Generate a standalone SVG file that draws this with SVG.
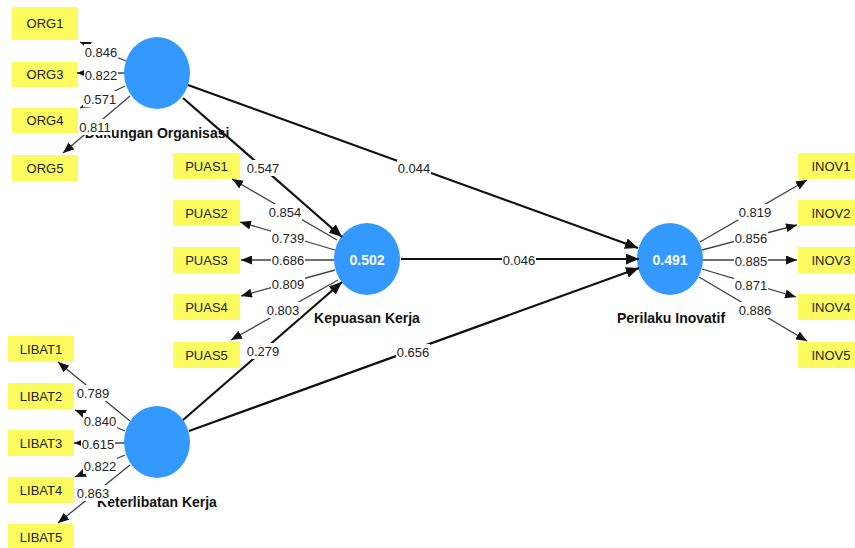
<svg xmlns="http://www.w3.org/2000/svg" width="855" height="548" viewBox="0 0 855 548">
<style>
.box{fill:#fcfc5f}
.bt{font-family:"Liberation Sans",Arial,sans-serif;font-size:13px;fill:#222;text-anchor:middle;dominant-baseline:central}
.lv{fill:#3399ff}
.vt{font-family:"Liberation Sans",Arial,sans-serif;font-size:14px;font-weight:bold;fill:#fff;text-anchor:middle;dominant-baseline:central}
.tt{font-family:"Liberation Sans",Arial,sans-serif;font-size:14px;font-weight:bold;fill:#111;text-anchor:middle}
.ld{stroke:#404040;stroke-width:1.3;fill:none;marker-end:url(#ah)}
.st{stroke:#111;stroke-width:2.2;fill:none;marker-end:url(#ahb)}
.lb{fill:#fff}
.lt{font-family:"Liberation Sans",Arial,sans-serif;font-size:13px;fill:#222;text-anchor:middle;dominant-baseline:central}
</style>
<defs>
<marker id="ah" markerUnits="userSpaceOnUse" markerWidth="11" markerHeight="9" refX="11" refY="4.5" orient="auto"><path d="M0,0 L11,4.5 L0,9 z" fill="#111"/></marker>
<marker id="ahb" markerUnits="userSpaceOnUse" markerWidth="13" markerHeight="11" refX="13" refY="5.5" orient="auto"><path d="M0,0 L13,5.5 L0,11 z" fill="#111"/></marker>
</defs>
<rect width="855" height="548" fill="#fff"/>

<g id="ORG1"><rect class="box" x="12" y="7" width="66" height="33"/><text class="bt" x="45" y="23">ORG1</text></g>
<g id="ORG3"><rect class="box" x="12" y="62" width="66" height="25"/><text class="bt" x="45" y="74.5">ORG3</text></g>
<g id="ORG4"><rect class="box" x="12" y="108" width="66" height="25"/><text class="bt" x="45" y="120.5">ORG4</text></g>
<g id="ORG5"><rect class="box" x="12" y="155" width="66" height="26"/><text class="bt" x="45" y="168">ORG5</text></g>

<g id="PUAS1"><rect class="box" x="173" y="153" width="67" height="26"/><text class="bt" x="206.5" y="166">PUAS1</text></g>
<g id="PUAS2"><rect class="box" x="173" y="200" width="67" height="26"/><text class="bt" x="206.5" y="213">PUAS2</text></g>
<g id="PUAS3"><rect class="box" x="173" y="247" width="67" height="26"/><text class="bt" x="206.5" y="260">PUAS3</text></g>
<g id="PUAS4"><rect class="box" x="173" y="294" width="67" height="26"/><text class="bt" x="206.5" y="307">PUAS4</text></g>
<g id="PUAS5"><rect class="box" x="173" y="342" width="67" height="26"/><text class="bt" x="206.5" y="355">PUAS5</text></g>

<g id="INOV1"><rect class="box" x="798" y="153" width="66" height="26"/><text class="bt" x="831" y="166">INOV1</text></g>
<g id="INOV2"><rect class="box" x="798" y="200" width="66" height="26"/><text class="bt" x="831" y="213">INOV2</text></g>
<g id="INOV3"><rect class="box" x="798" y="247" width="66" height="26"/><text class="bt" x="831" y="260">INOV3</text></g>
<g id="INOV4"><rect class="box" x="798" y="294" width="66" height="26"/><text class="bt" x="831" y="307">INOV4</text></g>
<g id="INOV5"><rect class="box" x="798" y="342" width="66" height="26"/><text class="bt" x="831" y="355">INOV5</text></g>

<g id="LIBAT1"><rect class="box" x="8" y="336" width="66" height="26"/><text class="bt" x="41" y="349">LIBAT1</text></g>
<g id="LIBAT2"><rect class="box" x="8" y="383" width="66" height="26"/><text class="bt" x="41" y="396">LIBAT2</text></g>
<g id="LIBAT3"><rect class="box" x="8" y="430" width="66" height="26"/><text class="bt" x="41" y="443">LIBAT3</text></g>
<g id="LIBAT4"><rect class="box" x="8" y="477" width="66" height="26"/><text class="bt" x="41" y="490">LIBAT4</text></g>
<g id="LIBAT5"><rect class="box" x="8" y="524" width="66" height="26"/><text class="bt" x="41" y="537">LIBAT5</text></g>

<g id="DukunganOrganisasi"><ellipse class="lv" cx="157" cy="73" rx="33" ry="36"/><text class="tt" x="157" y="138">Dukungan Organisasi</text></g>
<g id="KepuasanKerja"><ellipse class="lv" cx="367" cy="259" rx="33" ry="36"/><text class="vt" x="367" y="260">0.502</text><text class="tt" x="367" y="323">Kepuasan Kerja</text></g>
<g id="PerilakuInovatif"><ellipse class="lv" cx="670" cy="259" rx="33" ry="36"/><text class="vt" x="670" y="260">0.491</text><text class="tt" x="671" y="323">Perilaku Inovatif</text></g>
<g id="KeterlibatanKerja"><ellipse class="lv" cx="157" cy="442" rx="33" ry="36"/><text class="tt" x="157" y="507">Keterlibatan Kerja</text></g>

<g id="connectors">
<line class="ld" x1="126" y1="61" x2="80" y2="42"/>
<line class="ld" x1="124" y1="73" x2="77" y2="73"/>
<line class="ld" x1="125" y1="86" x2="80" y2="108"/>
<line class="ld" x1="130" y1="96" x2="63" y2="153"/>
<line class="ld" x1="337" y1="240" x2="232" y2="179"/>
<line class="ld" x1="335" y1="250" x2="240" y2="222"/>
<line class="ld" x1="334" y1="260" x2="241" y2="260"/>
<line class="ld" x1="335" y1="270" x2="241" y2="296"/>
<line class="ld" x1="338" y1="280" x2="231" y2="340"/>
<line class="ld" x1="700" y1="242" x2="807" y2="180"/>
<line class="ld" x1="702" y1="250" x2="797" y2="225"/>
<line class="ld" x1="703" y1="260" x2="797" y2="260"/>
<line class="ld" x1="702" y1="269" x2="796" y2="297"/>
<line class="ld" x1="699" y1="277" x2="807" y2="341"/>
<line class="ld" x1="130" y1="421" x2="58" y2="362"/>
<line class="ld" x1="125" y1="431" x2="75" y2="410"/>
<line class="ld" x1="124" y1="443" x2="74" y2="443"/>
<line class="ld" x1="125" y1="455" x2="75" y2="477"/>
<line class="ld" x1="130" y1="465" x2="58" y2="523"/>
<line class="st" x1="183" y1="98" x2="342" y2="237"/>
<line class="st" x1="188" y1="85" x2="638" y2="248"/>
<line class="st" x1="401" y1="259" x2="639" y2="259"/>
<line class="st" x1="183" y1="420" x2="342" y2="282"/>
<line class="st" x1="189" y1="431" x2="639" y2="268"/>

<g id="labels">
<rect class="lb" x="84" y="44" width="34" height="16"/><text class="lt" x="101" y="52">0.846</text>
<rect class="lb" x="84" y="67" width="34" height="16"/><text class="lt" x="101" y="75">0.822</text>
<rect class="lb" x="83" y="91" width="34" height="16"/><text class="lt" x="100" y="99">0.571</text>
<rect class="lb" x="78" y="119" width="34" height="16"/><text class="lt" x="95" y="127">0.811</text>
<rect class="lb" x="246" y="160" width="34" height="16"/><text class="lt" x="263" y="168">0.547</text>
<rect class="lb" x="397" y="160" width="34" height="16"/><text class="lt" x="414" y="168">0.044</text>
<rect class="lb" x="268" y="204" width="34" height="16"/><text class="lt" x="285" y="212">0.854</text>
<rect class="lb" x="271" y="230" width="34" height="16"/><text class="lt" x="288" y="238">0.739</text>
<rect class="lb" x="271" y="252" width="34" height="16"/><text class="lt" x="288" y="260">0.686</text>
<rect class="lb" x="271" y="276" width="34" height="16"/><text class="lt" x="288" y="284">0.809</text>
<rect class="lb" x="266" y="302" width="34" height="16"/><text class="lt" x="283" y="310">0.803</text>
<rect class="lb" x="246" y="343" width="34" height="16"/><text class="lt" x="263" y="351">0.279</text>
<rect class="lb" x="396" y="344" width="34" height="16"/><text class="lt" x="413" y="352">0.656</text>
<rect class="lb" x="502" y="252" width="34" height="16"/><text class="lt" x="519" y="260">0.046</text>
<rect class="lb" x="738" y="204" width="34" height="16"/><text class="lt" x="755" y="212">0.819</text>
<rect class="lb" x="734" y="230" width="34" height="16"/><text class="lt" x="751" y="238">0.856</text>
<rect class="lb" x="734" y="253" width="34" height="16"/><text class="lt" x="751" y="261">0.885</text>
<rect class="lb" x="734" y="277" width="34" height="16"/><text class="lt" x="751" y="285">0.871</text>
<rect class="lb" x="738" y="302" width="34" height="16"/><text class="lt" x="755" y="310">0.886</text>
<rect class="lb" x="76" y="385" width="34" height="16"/><text class="lt" x="93" y="393">0.789</text>
<rect class="lb" x="83" y="413" width="34" height="16"/><text class="lt" x="100" y="421">0.840</text>
<rect class="lb" x="81" y="436" width="34" height="16"/><text class="lt" x="98" y="444">0.615</text>
<rect class="lb" x="83" y="458" width="34" height="16"/><text class="lt" x="100" y="466">0.822</text>
<rect class="lb" x="76" y="485" width="34" height="16"/><text class="lt" x="93" y="493">0.863</text>
</g>
</g>
</svg>
